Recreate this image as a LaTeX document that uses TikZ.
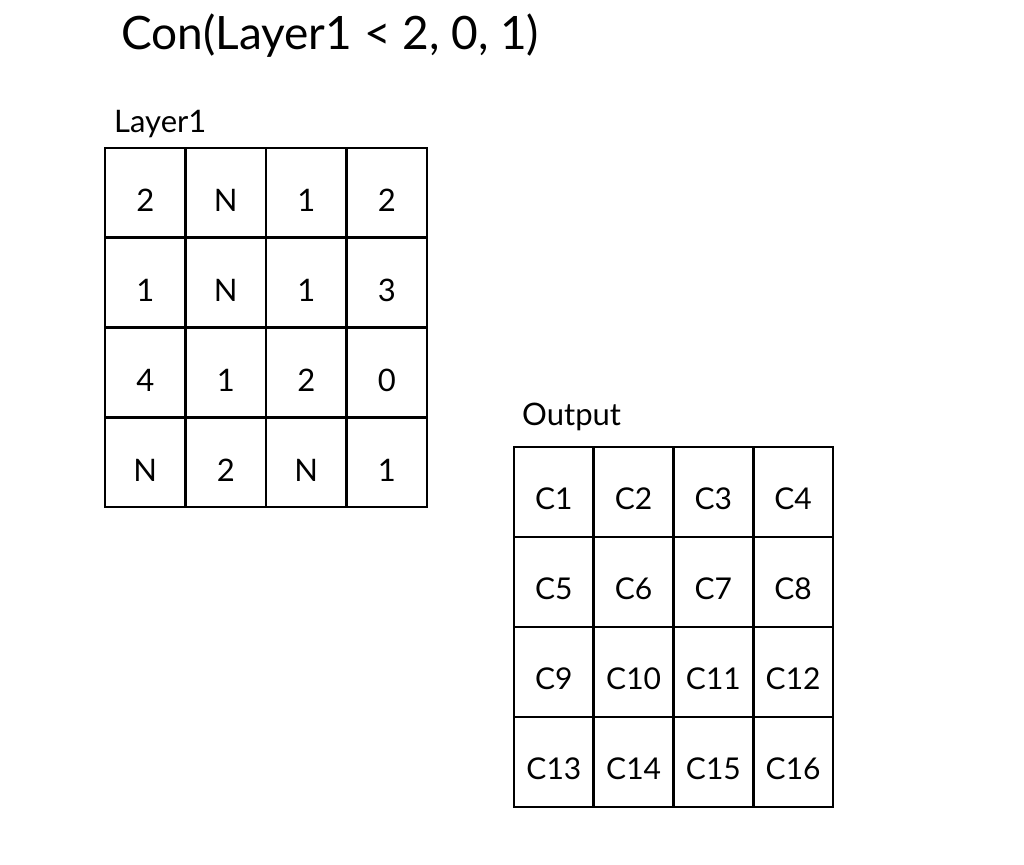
\documentclass[tikz,border=0pt]{standalone}
\usepackage{fontspec}
\setmainfont{Lato}
\begin{document}
\begin{tikzpicture}[x=1pt,y=-1pt,
  cellA/.style={draw, line width=2.8pt, minimum width=80.5pt, minimum height=89.75pt, inner sep=0pt, text height=38pt, text depth=0pt, font=\fontsize{31}{31}\selectfont},
  cellB/.style={draw, line width=2.8pt, minimum width=79.75pt, minimum height=90pt, inner sep=0pt, text height=35pt, text depth=0pt, font=\fontsize{30}{30}\selectfont},
  lab/.style={anchor=base west, inner sep=0pt, font=\fontsize{31}{31}\selectfont},
]
\useasboundingbox[fill=white] (0,0) rectangle (1024,864);
\node[anchor=base west, inner sep=0pt, font=\fontsize{46}{46}\selectfont] (title) at (121,50) {Con(Layer1 < 2, 0, 1)};
\node[lab] (lay) at (114,132) {Layer1};
\node[lab] (out) at (522,425) {Output};
% Layer1 grid
\def\vals{{"2","N","1","2","1","N","1","3","4","1","2","0","N","2","N","1"}}
\foreach \r in {0,...,3}{
  \foreach \c in {0,...,3}{
    \pgfmathsetmacro{\idx}{int(\r*4+\c)}
    \pgfmathparse{\vals[\idx]}\let\v\pgfmathresult
    \node[cellA] (a\r\c) at ({105+80.5*(\c+0.5)},{148+89.75*(\r+0.5)}) {\v};
  }
}
% Output grid
\foreach \r in {0,...,3}{
  \foreach \c in {0,...,3}{
    \pgfmathsetmacro{\k}{int(\r*4+\c+1)}
    \node[cellB] (b\r\c) at ({514+79.75*(\c+0.5)},{447+90*(\r+0.5)}) {C\k};
  }
}
\end{tikzpicture}
\end{document}
